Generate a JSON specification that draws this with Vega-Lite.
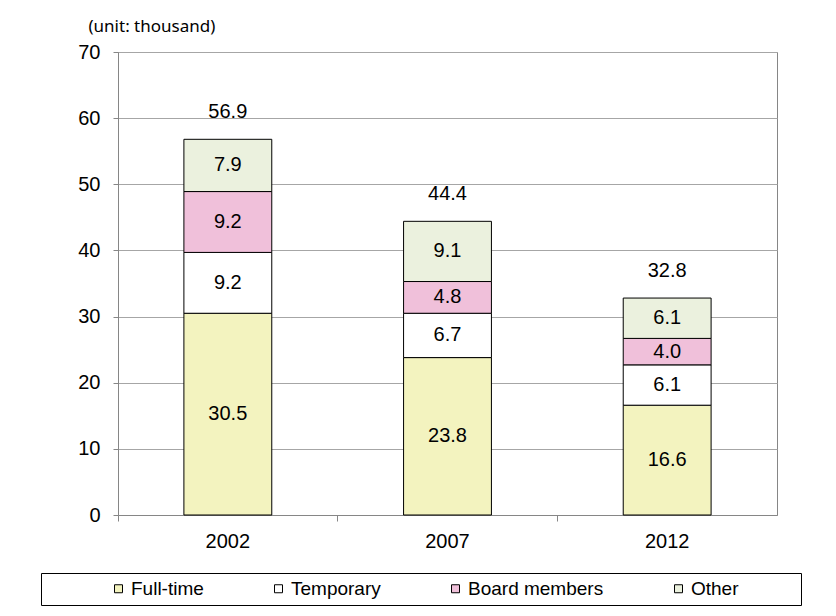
{
  "$schema": "https://vega.github.io/schema/vega-lite/v6.json",
  "width": 659,
  "height": 463,
  "autosize": "none",
  "padding": {"left": 118, "top": 52, "right": 59, "bottom": 101},
  "background": "white",
  "config": {
    "font": "Liberation Sans",
    "view": {"stroke": "#868686"}
  },
  "datasets": {
    "parts": [
      {"year": "2002", "cat": "Full-time", "k": 1, "value": 30.5},
      {"year": "2002", "cat": "Temporary", "k": 2, "value": 9.2},
      {"year": "2002", "cat": "Board members", "k": 3, "value": 9.2},
      {"year": "2002", "cat": "Other", "k": 4, "value": 7.9},
      {"year": "2007", "cat": "Full-time", "k": 1, "value": 23.8},
      {"year": "2007", "cat": "Temporary", "k": 2, "value": 6.7},
      {"year": "2007", "cat": "Board members", "k": 3, "value": 4.8},
      {"year": "2007", "cat": "Other", "k": 4, "value": 9.1},
      {"year": "2012", "cat": "Full-time", "k": 1, "value": 16.6},
      {"year": "2012", "cat": "Temporary", "k": 2, "value": 6.1},
      {"year": "2012", "cat": "Board members", "k": 3, "value": 4.0},
      {"year": "2012", "cat": "Other", "k": 4, "value": 6.1}
    ],
    "totals": [
      {"year": "2002", "total": 56.9},
      {"year": "2007", "total": 44.4},
      {"year": "2012", "total": 32.8}
    ]
  },
  "encoding": {
    "x": {
      "field": "year",
      "type": "nominal",
      "scale": {"paddingInner": 0.6, "paddingOuter": 0.3},
      "axis": {
        "title": null,
        "labelAngle": 0,
        "labelFontSize": 20,
        "labelColor": "black",
        "domainColor": "#868686",
        "tickColor": "#868686",
        "tickSize": 6,
        "bandPosition": -0.75,
        "labelPadding": 10,
        "grid": false
      }
    }
  },
  "layer": [
    {
      "data": {"name": "parts"},
      "mark": {"type": "bar", "stroke": "black", "strokeWidth": 1},
      "encoding": {
        "y": {
          "field": "value",
          "type": "quantitative",
          "stack": "zero",
          "scale": {"domain": [0, 70]},
          "axis": {
            "title": "(unit: thousand)",
            "titleFont": "Noto Sans",
            "titleAngle": 0,
            "titleAlign": "left",
            "titleBaseline": "middle",
            "titleX": -30,
            "titleY": -26,
            "titleFontSize": 17,
            "titleFontWeight": "normal",
            "titleColor": "black",
            "values": [0, 10, 20, 30, 40, 50, 60, 70],
            "labelFontSize": 20,
            "labelColor": "black",
            "gridColor": "#a6a6a6",
            "domainColor": "#868686",
            "tickColor": "#868686",
            "tickSize": 5,
            "labelPadding": 13
          }
        },
        "order": {"field": "k", "type": "quantitative"},
        "color": {
          "field": "cat",
          "type": "nominal",
          "sort": ["Full-time", "Temporary", "Board members", "Other"],
          "scale": {
            "domain": ["Full-time", "Temporary", "Board members", "Other"],
            "range": ["#f3f3bf", "#ffffff", "#f0c0da", "#ebf1de"]
          },
          "legend": {
            "title": " ",
            "titleOrient": "right",
            "titlePadding": 56,
            "orient": "none",
            "legendX": -77,
            "legendY": 521,
            "direction": "horizontal",
            "symbolType": "square",
            "symbolSize": 64,
            "symbolStrokeColor": "black",
            "symbolStrokeWidth": 1,
            "symbolOffset": 62,
            "labelFontSize": 19,
            "labelColor": "black",
            "labelOffset": 3,
            "columnPadding": 3,
            "strokeColor": "black",
            "padding": 6
          }
        }
      }
    },
    {
      "data": {"name": "parts"},
      "mark": {"type": "text", "fontSize": 20, "color": "black"},
      "encoding": {
        "y": {"field": "value", "type": "quantitative", "stack": "zero", "bandPosition": 0.5},
        "detail": {"field": "cat"},
        "order": {"field": "k", "type": "quantitative"},
        "text": {"field": "value", "type": "quantitative", "format": ".1f"}
      }
    },
    {
      "data": {"name": "totals"},
      "mark": {"type": "text", "fontSize": 20, "color": "black", "baseline": "middle", "dy": -27},
      "encoding": {
        "y": {"field": "total", "type": "quantitative"},
        "text": {"field": "total", "type": "quantitative", "format": ".1f"}
      }
    }
  ]
}
